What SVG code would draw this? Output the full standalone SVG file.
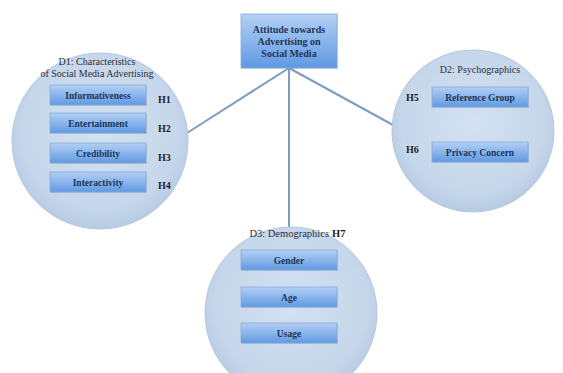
<svg xmlns="http://www.w3.org/2000/svg" width="563" height="373" viewBox="0 0 563 373">
<defs>
<linearGradient id="boxg" x1="0" y1="0" x2="0" y2="1">
<stop offset="0" stop-color="#b3d0f4"/>
<stop offset="1" stop-color="#6099e2"/>
</linearGradient>
<radialGradient id="circg" cx="0.5" cy="0.45" r="0.55">
<stop offset="0" stop-color="#d3e1f1"/>
<stop offset="0.8" stop-color="#c6d7eb"/>
<stop offset="1" stop-color="#b6cae3"/>
</radialGradient>
</defs>
<style>
.circ{fill:url(#circg);stroke:#b4c8e0;stroke-width:1}
.box{fill:url(#boxg);stroke:#86aad8;stroke-width:0.8}
.shadow{fill:#7f95ad;opacity:0.35}
.bt{font-family:"Liberation Serif","Times New Roman",serif;font-size:9.5px;font-weight:bold;fill:#1e3657;text-anchor:middle}
.tt{font-family:"Liberation Serif","Times New Roman",serif;font-size:10px;font-weight:bold;fill:#1e3657;text-anchor:middle}
.dt{font-family:"Liberation Serif","Times New Roman",serif;font-size:10px;fill:#2a2f38;text-anchor:middle}
.ht{font-family:"Liberation Serif","Times New Roman",serif;font-size:10px;font-weight:bold;fill:#1c1f24}
.con{stroke:#7b9dc2;stroke-width:2;fill:none}
</style>
<rect width="563" height="373" fill="#ffffff"/>
<g id="connectors">
<line class="con" x1="289" y1="68" x2="187" y2="133"/>
<line class="con" x1="289" y1="68" x2="289" y2="228"/>
<line class="con" x1="289" y1="68" x2="393" y2="125"/>
</g>
<g id="d1">
<circle class="circ" cx="100" cy="141" r="88"/>
<text class="dt" x="97" y="65">D1: Characteristics</text>
<text class="dt" x="97" y="77">of Social Media Advertising</text>
<g id="informativeness">
<rect class="shadow" x="51" y="86" width="96" height="20"/>
<rect class="box" x="50" y="85" width="96" height="20"/>
<text class="bt" x="98" y="98.5">Informativeness</text>
</g>
<g id="entertainment">
<rect class="shadow" x="51" y="114" width="96" height="20"/>
<rect class="box" x="50" y="113" width="96" height="20"/>
<text class="bt" x="98" y="126.5">Entertainment</text>
</g>
<g id="credibility">
<rect class="shadow" x="51" y="144" width="96" height="20"/>
<rect class="box" x="50" y="143" width="96" height="20"/>
<text class="bt" x="98" y="156.5">Credibility</text>
</g>
<g id="interactivity">
<rect class="shadow" x="51" y="173" width="96" height="20"/>
<rect class="box" x="50" y="172" width="96" height="20"/>
<text class="bt" x="98" y="185.5">Interactivity</text>
</g>
<text class="ht" x="158" y="103">H1</text>
<text class="ht" x="158" y="132">H2</text>
<text class="ht" x="158" y="161">H3</text>
<text class="ht" x="158" y="189">H4</text>
</g>
<g id="d2">
<circle class="circ" cx="473" cy="131" r="81"/>
<text class="dt" x="480" y="73">D2: Psychographics</text>
<g id="reference-group">
<rect class="shadow" x="433" y="88" width="96" height="20"/>
<rect class="box" x="432" y="87" width="96" height="20"/>
<text class="bt" x="480" y="100.5">Reference Group</text>
</g>
<g id="privacy-concern">
<rect class="shadow" x="433" y="143" width="96" height="20"/>
<rect class="box" x="432" y="142" width="96" height="20"/>
<text class="bt" x="480" y="155.5">Privacy Concern</text>
</g>
<text class="ht" x="406" y="101">H5</text>
<text class="ht" x="406" y="153">H6</text>
</g>
<g id="d3">
<circle class="circ" cx="291" cy="313" r="86"/>
<text class="dt" x="329" y="237" style="text-anchor:end;font-size:10.5px">D3: Demographics</text>
<text class="ht" x="332" y="237" style="font-size:10.5px">H7</text>
<g id="gender">
<rect class="shadow" x="242" y="251" width="96" height="20"/>
<rect class="box" x="241" y="250" width="96" height="20"/>
<text class="bt" x="289" y="263.5">Gender</text>
</g>
<g id="age">
<rect class="shadow" x="242" y="288" width="96" height="20"/>
<rect class="box" x="241" y="287" width="96" height="20"/>
<text class="bt" x="289" y="300.5">Age</text>
</g>
<g id="usage">
<rect class="shadow" x="242" y="324" width="96" height="20"/>
<rect class="box" x="241" y="323" width="96" height="20"/>
<text class="bt" x="289" y="336.5">Usage</text>
</g>
</g>
<g id="attitude">
<rect class="shadow" x="242" y="15" width="96" height="54"/>
<rect class="box" x="241" y="14" width="96" height="54"/>
<text class="tt" x="289" y="33">Attitude towards</text>
<text class="tt" x="289" y="45">Advertising on</text>
<text class="tt" x="289" y="57">Social Media</text>
</g>
</svg>
